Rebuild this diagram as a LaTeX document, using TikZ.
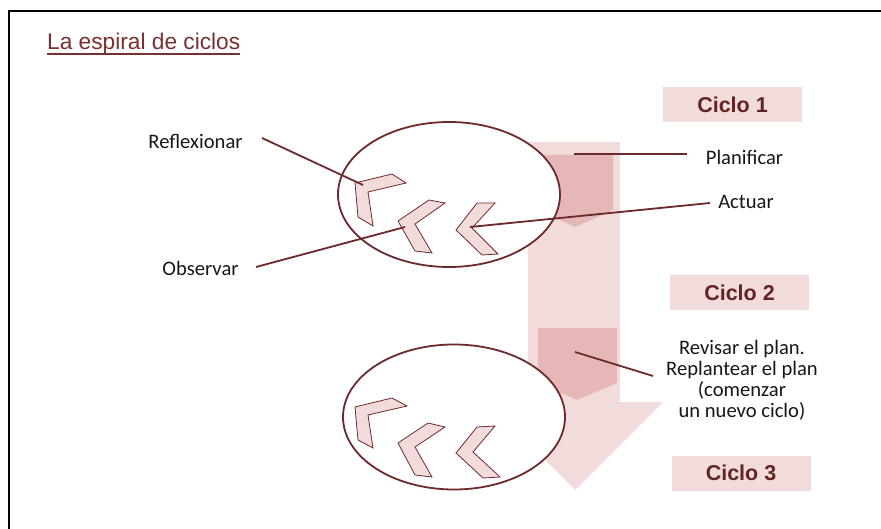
\documentclass[tikz,border=0pt]{standalone}
\usepackage{fontspec}
\setmainfont{Carlito}
\newfontfamily\arialfont{Liberation Sans}
\usetikzlibrary{shapes.geometric}
\definecolor{lightpink}{HTML}{F2DCDB}
\definecolor{midpink}{HTML}{E5B8B7}
\definecolor{brownline}{HTML}{6E2A2A}
\definecolor{titlecol}{HTML}{7A3030}
\definecolor{ciclocol}{HTML}{632523}
\definecolor{labelcol}{HTML}{16161F}
\tikzset{
  conn/.style={draw=brownline, line width=1.8pt},
  chev/.style={fill=lightpink, draw=brownline, line width=0.8pt, line join=miter},
  oval/.style={ellipse, draw=brownline, line width=1.8pt, fill=white, inner sep=0pt, minimum width=222pt, minimum height=145pt},
  ciclobox/.style={fill=lightpink, inner sep=0pt, minimum width=139pt, minimum height=35pt, text=ciclocol, font=\arialfont\bfseries\fontsize{21.5}{23}\selectfont},
  lbl/.style={text=labelcol, font=\fontsize{20.6}{21}\selectfont, inner sep=0pt}
}
\begin{document}
\begin{tikzpicture}[x=1pt,y=-1pt]
\useasboundingbox (0,0) rectangle (881,529);
\fill[white] (0,0) rectangle (881,529);
% frame
\draw[line width=2pt, black] (8.5,529) -- (8.5,11.5) -- (881,11.5);
% title
\node[anchor=base west, inner sep=0pt, text=titlecol, font=\arialfont\fontsize{22.7}{24}\selectfont] (title) at (47,50) {La espiral de ciclos};
\draw[titlecol, line width=2pt] (title.south west |- 0,54.5) -- (title.south east |- 0,54.5);
% big light arrow
\fill[lightpink] (528,142) -- (620,142) -- (620,402) -- (663,402) -- (575,490) -- (487,402) -- (528,402) -- cycle;
% darker blocks
\fill[midpink] (537,155) -- (613,155) -- (613,210) -- (575,227) -- (537,210) -- cycle;
\fill[midpink] (538,328) -- (617,328) -- (617,383) -- (577,400) -- (538,383) -- cycle;
% ellipses
\node[oval] (e1) at (449,194.5) {};
\node[oval] (e2) at (454,417) {};
% chevrons cycle 1
\filldraw[chev] (355,183) -- (392,174) -- (406,183) -- (368,192) -- (373,226) -- (358,217) -- cycle;
\filldraw[chev] (398,221) -- (429,200) -- (445,203) -- (415,224) -- (432,253) -- (415,251) -- cycle;
\filldraw[chev] (456,230) -- (477,203) -- (495,203) -- (472,228) -- (498,254) -- (482,255) -- cycle;
% chevrons cycle 2
\filldraw[chev] (355,407) -- (392,398) -- (407,406) -- (368,415) -- (373,448) -- (358,440) -- cycle;
\filldraw[chev] (398,443) -- (428,423) -- (445,427) -- (415,447) -- (432,477) -- (415,475) -- cycle;
\filldraw[chev] (456,453) -- (477,427) -- (495,426) -- (473,452) -- (500,477) -- (483,478) -- cycle;
% labels
\node[lbl] (refl) at (195.5,141) {Reflexionar};
\node[lbl] (obs) at (200.5,268) {Observar};
\node[lbl] (plan) at (744.5,157) {Planificar};
\node[lbl] (act) at (746,202) {Actuar};
\node[lbl, align=center] (rev) at (742,380) {Revisar el plan.\\Replantear el plan\\(comenzar\\un nuevo ciclo)};
% cycle boxes
\node[ciclobox] (c1) at (732.5,104.5) {Ciclo 1};
\node[ciclobox] (c2) at (739.5,293) {Ciclo 2};
\node[ciclobox] (c3) at (741,473) {Ciclo 3};
% connector end points
\coordinate (reflA) at (262,138);
\coordinate (reflB) at (363,185);
\coordinate (obsA) at (256,267);
\coordinate (obsB) at (405,227);
\coordinate (actA) at (710,203);
\coordinate (actB) at (470,227);
\coordinate (planA) at (687,154);
\coordinate (planB) at (574,154);
\coordinate (revA) at (653,376);
\coordinate (revB) at (575,352);
\draw[conn] (reflA) -- (reflB);
\draw[conn] (obsA) -- (obsB);
\draw[conn] (actA) -- (actB);
\draw[conn] (planA) -- (planB);
\draw[conn] (revA) -- (revB);
\end{tikzpicture}
\end{document}
